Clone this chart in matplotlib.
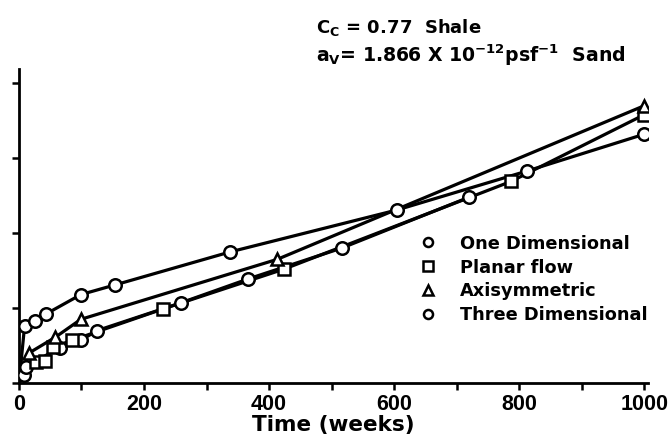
import matplotlib
matplotlib.use("Agg")
import matplotlib.pyplot as plt
from matplotlib.lines import Line2D

plt.rcParams["font.family"] = ["DejaVu Sans"]
plt.rcParams["font.weight"] = "bold"
plt.rcParams["mathtext.fontset"] = "dejavusans"
plt.rcParams["mathtext.default"] = "bf"

# Settlement vs. time for four drainage assumptions
one_dim_t = [0, 8, 11, 65, 99, 125, 259, 367, 516, 720]
one_dim_s = [0, 0.11, 0.22, 0.47, 0.57, 0.70, 1.07, 1.39, 1.80, 2.48]

planar_t = [0, 27, 41, 55, 85, 231, 424, 787, 1000]
planar_s = [0, 0.28, 0.30, 0.48, 0.57, 0.99, 1.52, 2.69, 3.58]

axisym_t = [0, 16, 58, 99, 413, 1000]
axisym_s = [0, 0.40, 0.61, 0.85, 1.65, 3.70]

three_dim_t = [0, 9, 25, 43, 99, 154, 338, 605, 813, 1000]
three_dim_s = [0, 0.76, 0.83, 0.92, 1.18, 1.31, 1.75, 2.31, 2.83, 3.32]

labels = ["One Dimensional", "Planar flow", "Axisymmetric", "Three Dimensional"]
markers = ["o", "s", "^", "o"]
series = [(one_dim_t, one_dim_s), (planar_t, planar_s),
          (axisym_t, axisym_s), (three_dim_t, three_dim_s)]

x_major = [0, 200, 400, 600, 800, 1000]
x_minor = [100, 300, 500, 700, 900]
y_ticks = [0, 1, 2, 3, 4]

fig = plt.figure(figsize=(6.68, 4.41), dpi=100)
ax = fig.add_axes([0.0284, 0.1315, 0.9416, 0.712])

# lines first, then open markers on top
for t, s in series:
    ax.plot(t, s, color="black", lw=2.3, solid_capstyle="round", zorder=2)
for (t, s), m in zip(series, markers):
    ms = 9 if m == "o" else 8.5
    ax.plot(t[1:], s[1:], ls="none", marker=m, ms=ms, mfc="white",
            mec="black", mew=1.8, zorder=3)

ax.set_xlim(0, 1006)
ax.set_ylim(0, 4.19)
ax.set_xticks(x_major)
ax.set_xticks(x_minor, minor=True)
ax.set_xticklabels([str(v) for v in x_major], fontsize=15.5, fontweight="bold",
                   family="Liberation Sans")
ax.set_yticks(y_ticks)
ax.set_yticklabels([])
ax.tick_params(axis="x", which="both", direction="out", length=5, width=1.8, pad=3)
ax.tick_params(axis="y", which="both", direction="out", length=5, width=1.8)
for side in ("top", "right"):
    ax.spines[side].set_visible(False)
for side in ("left", "bottom"):
    ax.spines[side].set_linewidth(2.0)

ax.set_xlabel("Time (weeks)", fontsize=15.5, fontweight="bold", labelpad=0)

handles = [Line2D([], [], ls="none", marker=m, ms=6.5, mfc="white",
                  mec="black", mew=1.8) for m in markers]
ax.legend(handles, labels, loc="upper left", bbox_to_anchor=(0.625, 0.495),
          frameon=False, prop={"weight": "bold", "size": 12.8},
          handlelength=1.0, handletextpad=1.3, labelspacing=0.33,
          borderaxespad=0)

fig.text(0.473, 0.937, r"C$_C$ = 0.77  Shale", fontsize=13, fontweight="bold",
         va="center", ha="left")
fig.text(0.473, 0.875, r"a$_V$= 1.866 X 10$^{-12}$psf$^{-1}$  Sand", fontsize=13.6,
         fontweight="bold", va="center", ha="left")

fig.savefig("out.png", dpi=100)
